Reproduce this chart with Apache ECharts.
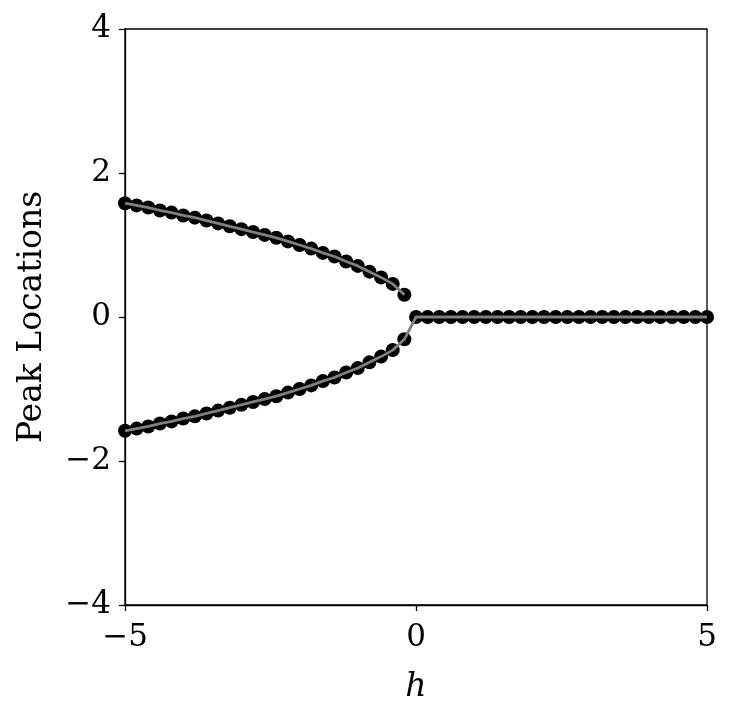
<!DOCTYPE html>
<html>
<head>
<meta charset="utf-8">
<script src="https://cdn.jsdelivr.net/npm/echarts@6/dist/echarts.min.js"></script>
<style>
  html, body { margin: 0; padding: 0; background: #fff; }
  #chart { width: 731px; height: 718px; }
</style>
</head>
<body>
<div id="chart"></div>
<script>
// h values for the split branches (h < 0) and the single branch (h >= 0)
const hLeft = [-5, -4.8, -4.6, -4.4, -4.2, -4, -3.8, -3.6, -3.4, -3.2, -3, -2.8, -2.6,
  -2.4, -2.2, -2, -1.8, -1.6, -1.4, -1.2, -1, -0.8, -0.6, -0.4, -0.2];
const hRight = [0, 0.2, 0.4, 0.6, 0.8, 1, 1.2, 1.4, 1.6, 1.8, 2, 2.2, 2.4, 2.6, 2.8,
  3, 3.2, 3.4, 3.6, 3.8, 4, 4.2, 4.4, 4.6, 4.8, 5];

// peak locations
const upperPeak = [1.58, 1.55, 1.52, 1.48, 1.45, 1.41, 1.38, 1.34, 1.30, 1.26, 1.22, 1.18, 1.14,
  1.10, 1.05, 1.00, 0.95, 0.89, 0.84, 0.77, 0.71, 0.63, 0.55, 0.46, 0.31];
const lowerPeak = [-1.58, -1.55, -1.52, -1.48, -1.45, -1.41, -1.38, -1.34, -1.30, -1.26, -1.22, -1.18, -1.14,
  -1.10, -1.05, -1.00, -0.95, -0.89, -0.84, -0.77, -0.71, -0.63, -0.55, -0.46, -0.31];
const centerPeak = [0, 0, 0, 0, 0, 0, 0, 0, 0, 0, 0, 0, 0, 0, 0, 0, 0, 0, 0, 0, 0, 0, 0, 0, 0, 0];

const xTicks = [-5, 0, 5];
const yTicks = [-4, -2, 0, 2, 4];

const font = "'DejaVu Serif', 'Liberation Serif', serif";
const pair = (xs, ys) => xs.map((x, i) => [x, ys[i]]);

const upperPts = pair(hLeft, upperPeak);
const lowerPts = pair(hLeft, lowerPeak);
const centerPts = pair(hRight, centerPeak);

const chart = echarts.init(document.getElementById("chart"));

const minus = (v) => String(v).replace("-", "\u2212");

const option = {
  animation: false,
  backgroundColor: "#fff",
  grid: {
    left: 125,
    right: 24,
    top: 29,
    bottom: 113,
    outerBoundsMode: "none",
    containLabel: false,
    show: true,
    borderColor: "#000",
    borderWidth: 1.3,
  },
  xAxis: {
    type: "value",
    min: xTicks[0],
    max: xTicks[xTicks.length - 1],
    interval: 5,
    name: "h",
    nameLocation: "middle",
    nameGap: 66,
    nameTextStyle: { fontFamily: font, fontStyle: "italic", fontSize: 33, color: "#000" },
    axisLine: { onZero: false, lineStyle: { color: "#000", width: 1.3 } },
    axisTick: { length: 6, lineStyle: { color: "#000", width: 1.3 } },
    axisLabel: {
      fontFamily: font, fontSize: 31, color: "#000", margin: 17,
      formatter: minus,
    },
    splitLine: { show: false },
  },
  yAxis: {
    type: "value",
    min: yTicks[0],
    max: yTicks[yTicks.length - 1],
    interval: 2,
    name: "Peak Locations",
    nameLocation: "middle",
    nameGap: 76,
    nameTextStyle: { fontFamily: font, fontSize: 33, color: "#000" },
    axisLine: { onZero: false, lineStyle: { color: "#000", width: 1.3 } },
    axisTick: { length: 6, lineStyle: { color: "#000", width: 1.3 } },
    axisLabel: {
      fontFamily: font, fontSize: 31, color: "#000", margin: 14,
      formatter: minus,
    },
    splitLine: { show: false },
  },
  series: [
    {
      type: "scatter",
      data: upperPts.concat(lowerPts, centerPts),
      symbol: "circle",
      symbolSize: 14,
      itemStyle: { color: "#000", opacity: 1 },
      z: 2,
    },
    {
      type: "line",
      data: upperPts,
      showSymbol: false,
      smooth: false,
      lineStyle: { color: "#808080", width: 2.8 },
      z: 3,
    },
    {
      type: "line",
      data: lowerPts.concat(centerPts),
      showSymbol: false,
      smooth: false,
      lineStyle: { color: "#808080", width: 2.8 },
      z: 3,
    },
  ],
};

chart.setOption(option);
window.addEventListener("resize", () => chart.resize());
</script>
</body>
</html>
